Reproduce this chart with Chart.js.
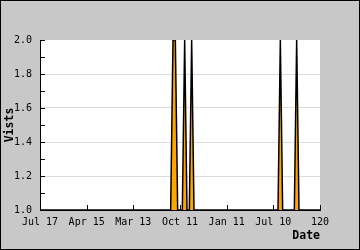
<!DOCTYPE html>
<html>
<head>
<meta charset="utf-8">
<script src="https://cdn.jsdelivr.net/npm/chart.js@4/dist/chart.umd.min.js"></script>
<style>
  html, body { margin: 0; padding: 0; background: #c8c8c8; }
  canvas { display: block; }
</style>
</head>
<body>
<canvas id="c" width="360" height="250"></canvas>
<script>
// Tick labels shown every 20 points along the x axis
const xTickLabels = ["Jul 17", "Apr 15", "Mar 13", "Oct 11", "Jan 11", "Jul 10", "120"];
const xLabelEvery = 20;

// Visits per point (121 points, index 0..120)
const visits = [
  1,1,1,1,1,1,1,1,1,1,1,1,1,1,1,1,1,1,1,1,
  1,1,1,1,1,1,1,1,1,1,1,1,1,1,1,1,1,1,1,1,
  1,1,1,1,1,1,1,1,1,1,1,1,1,1,1,1,1,2,2,1,
  1,1,2,1,1,2,1,1,1,1,1,1,1,1,1,1,1,1,1,1,
  1,1,1,1,1,1,1,1,1,1,1,1,1,1,1,1,1,1,1,1,
  1,1,1,2,1,1,1,1,1,1,2,1,1,1,1,1,1,1,1,1,
  1
];

const yMin = 1.0, yMax = 2.0, yMinorStep = 0.1;
const categories = visits.map((_, i) => i);

const frame = {
  id: 'frame',
  beforeDraw(chart) {
    const { ctx, chartArea: a, width, height } = chart;
    ctx.save();
    ctx.fillStyle = '#c8c8c8';
    ctx.fillRect(0, 0, width, height);
    ctx.strokeStyle = '#000';
    ctx.lineWidth = 1;
    ctx.strokeRect(0.5, 0.5, width - 1, height - 1);
    ctx.fillStyle = '#ffffff';
    ctx.fillRect(a.left, a.top, a.right - a.left, a.bottom - a.top);
    ctx.restore();
  },
  afterDatasetsDraw(chart) {
    const { ctx, chartArea: a, scales } = chart;
    ctx.save();
    ctx.strokeStyle = '#000';
    ctx.lineWidth = 1;
    ctx.beginPath();
    scales.y.ticks.forEach(t => {
      const y = Math.round(scales.y.getPixelForValue(t.value)) + 0.5;
      ctx.moveTo(a.left, y);
      ctx.lineTo(a.left + 5, y);
    });
    categories.forEach((c, i) => {
      if (i % xLabelEvery === 0) {
        const x = Math.round(scales.x.getPixelForValue(i)) + 0.5;
        ctx.moveTo(x, a.bottom);
        ctx.lineTo(x, a.bottom - 5);
      }
    });
    ctx.stroke();
    ctx.restore();
  }
};

new Chart(document.getElementById('c'), {
  type: 'line',
  data: {
    labels: categories,
    datasets: [{
      data: visits,
      borderColor: '#000000',
      borderWidth: 1.5,
      backgroundColor: '#ffa500',
      fill: 'start',
      pointRadius: 0,
      tension: 0
    }]
  },
  options: {
    responsive: false,
    devicePixelRatio: 1,
    animation: false,
    layout: { padding: { left: 0, right: 40, top: 40, bottom: 0 } },
    plugins: { legend: { display: false }, tooltip: { enabled: false } },
    scales: {
      x: {
        type: 'category',
        offset: false,
        grid: { display: false, drawTicks: false },
        border: { display: true, color: '#000', width: 1 },
        ticks: {
          autoSkip: false,
          maxRotation: 0,
          padding: 6,
          color: '#000',
          font: { family: 'DejaVu Sans Mono', size: 10 },
          callback: (v, i) => (i % xLabelEvery === 0 ? xTickLabels[i / xLabelEvery] : null)
        },
        title: {
          display: true,
          text: 'Date',
          align: 'end',
          color: '#000',
          font: { family: 'DejaVu Sans Mono', size: 11.5, weight: 'bold' },
          padding: { top: 0, bottom: 7 }
        },
        afterFit: s => { s.height = 40; }
      },
      y: {
        min: yMin,
        max: yMax,
        grid: {
          drawTicks: false,
          color: c => {
            const v = Math.round(c.tick.value * 10);
            return (v % 2 === 0 && v !== 10 && v !== 20) ? '#dcdcdc' : 'rgba(0,0,0,0)';
          }
        },
        border: { display: true, color: '#000', width: 1 },
        ticks: {
          stepSize: yMinorStep,
          padding: 8,
          color: '#000',
          font: { family: 'DejaVu Sans Mono', size: 10 },
          callback: v => (Math.round(v * 10) % 2 === 0 ? Number(v).toFixed(1) : '')
        },
        title: {
          display: true,
          text: 'Vists',
          color: '#000',
          font: { family: 'DejaVu Sans Mono', size: 11.5, weight: 'bold' },
          padding: { top: 3, bottom: 0 }
        },
        afterFit: s => { s.width = 40; }
      }
    }
  },
  plugins: [frame]
});
</script>
</body>
</html>
